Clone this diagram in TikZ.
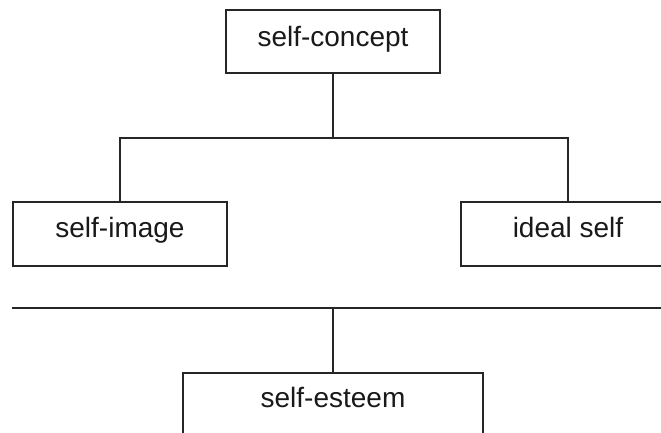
\documentclass[tikz,border=0pt]{standalone}
\usepackage{fontspec}
\setmainfont{Liberation Sans}
\begin{document}
\begin{tikzpicture}[x=1pt,y=-1pt,
  box/.style={draw=black!85, line width=1.1pt, rectangle, inner sep=0pt,
    minimum width=214pt, minimum height=64pt,
    font=\fontsize{28}{32}\selectfont, text=black!90,
    text height=20pt, text depth=14pt},
  topbox/.style={box, minimum height=63pt, text depth=10pt},
  conn/.style={draw=black!85, line width=1.1pt}]
\clip (0,0) rectangle (661,432);
\node[topbox] (concept) at (333,41.5) {self-concept};
\node[box] (image) at (120,234) {self-image};
\node[box] (ideal) at (568,234) {ideal self};
\node[box, minimum width=300pt, text depth=16pt] (esteem) at (333,405) {self-esteem};
\coordinate (j) at (333,138);
\coordinate (L) at (12,308);
\coordinate (R) at (670,308);
\draw[conn] (concept.south) -- (j);
\draw[conn] (image.north) |- (j) -| (ideal.north);
\draw[conn] (L) -- (R);
\draw[conn] (esteem.north) -- (esteem.north |- L);
\end{tikzpicture}
\end{document}
